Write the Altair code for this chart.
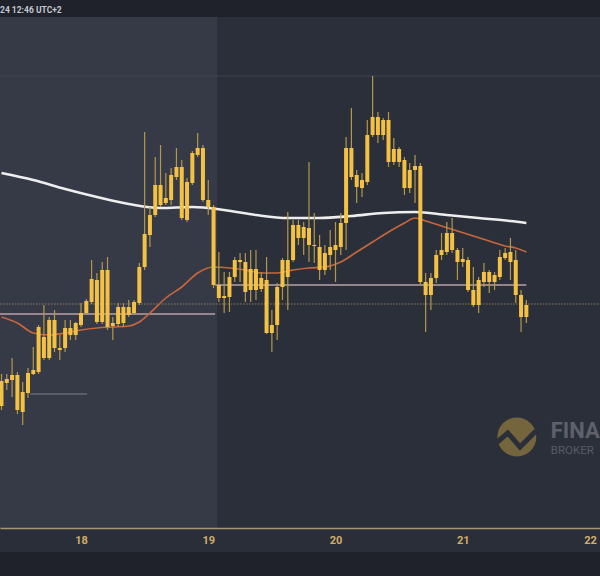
import altair as alt
import pandas as pd

# Hourly candles, hour offsets counted from 17 Apr 00:00 (UTC+2)
hours = list(range(9, 109))

open_ = [194, 217, 220, 225, 188, 207, 226, 228, 263, 242,
         280, 252, 252, 272, 265, 275, 287, 298, 320, 278,
         330, 274, 276, 293, 285, 287, 297, 333, 365, 385,
         415, 397, 400, 423, 433, 380, 417, 445, 452, 400,
         393, 315, 302, 303, 323, 340, 338, 310, 331, 311,
         320, 267, 275, 313, 340, 340, 375, 362, 372, 355,
         353, 330, 345, 350, 353, 377, 452, 425, 412, 418,
         465, 483, 465, 480, 438, 451, 440, 412, 430, 434,
         318, 305, 322, 345, 348, 367, 350, 338, 340, 310,
         295, 318, 328, 318, 323, 342, 348, 340, 305, 283]

close = [219, 221, 225, 190, 208, 227, 230, 273, 242, 280,
         252, 250, 272, 265, 277, 287, 299, 321, 278, 330,
         273, 277, 293, 277, 293, 298, 333, 366, 385, 415,
         395, 402, 425, 433, 382, 418, 447, 452, 400, 393,
         315, 302, 304, 323, 340, 338, 308, 331, 310, 322,
         267, 275, 313, 340, 323, 375, 362, 373, 355, 354,
         330, 347, 353, 355, 377, 452, 423, 413, 420, 465,
         483, 465, 480, 438, 451, 438, 412, 430, 434, 318,
         305, 322, 345, 350, 367, 350, 338, 341, 310, 295,
         320, 328, 318, 325, 343, 347, 338, 305, 283, 295]

high = [226, 226, 242, 228, 218, 232, 253, 275, 295, 283,
        290, 265, 280, 280, 278, 297, 301, 340, 327, 338,
        343, 283, 297, 297, 300, 300, 337, 468, 393, 443,
        455, 427, 432, 452, 440, 422, 449, 467, 455, 420,
        395, 348, 328, 328, 343, 347, 347, 350, 350, 328,
        343, 290, 317, 342, 388, 380, 380, 378, 438, 387,
        365, 355, 370, 378, 387, 463, 492, 430, 427, 480,
        524, 488, 482, 488, 462, 453, 443, 437, 445, 437,
        327, 327, 350, 367, 378, 382, 352, 352, 343, 333,
        323, 337, 330, 328, 350, 352, 362, 350, 310, 300]

low = [190, 210, 203, 186, 175, 202, 225, 226, 240, 240,
       248, 240, 248, 260, 260, 273, 285, 296, 276, 276,
       270, 260, 273, 273, 283, 285, 295, 330, 353, 383,
       393, 395, 395, 420, 380, 378, 415, 443, 398, 385,
       312, 298, 287, 288, 318, 318, 298, 298, 300, 308,
       266, 248, 260, 300, 290, 338, 355, 345, 338, 337,
       320, 325, 330, 318, 345, 350, 420, 397, 403, 415,
       463, 457, 460, 433, 435, 433, 405, 407, 397, 316,
       268, 290, 317, 340, 345, 347, 320, 333, 308, 293,
       287, 313, 307, 310, 320, 340, 320, 297, 268, 277]

# Slow moving average (white)
slow_ma_hours = [9, 15, 21, 27, 33, 39, 45, 51, 57, 63, 69, 75, 81, 87, 93, 99, 105, 108]
slow_ma = [427, 420, 411, 403, 396, 392, 393, 390, 385, 382, 382, 384, 387, 388, 385, 382, 379, 377]

# Fast moving average (orange)
fast_ma_hours = [9, 12, 15, 18, 21, 24, 27, 30, 33, 35, 37, 40, 43, 46, 49, 52, 55, 58,
                 61, 64, 67, 70, 73, 76, 79, 82, 85, 87, 89, 92, 95, 98, 101, 104, 106, 108]
fast_ma = [283, 277, 267, 265, 267, 270, 272, 273, 274, 278, 287, 302, 313, 327, 333, 332, 330, 327,
           327, 330, 332, 333, 338, 348, 358, 368, 377, 382, 379, 374, 369, 364, 359, 354, 352, 348]

# Horizontal price levels
grid_price = 524
dotted_price = 296
level_starts = [49.3, 8.72, 14.4]
level_ends = [108.0, 49.3, 25.1]
level_prices = [315, 286, 206]

# Shaded previous-session band
band_start = 8.72
band_end = 49.65

day_ticks = [24, 48, 72, 96, 120]
header = "24 12:46 UTC+2"

X_DOMAIN = [8.72, 121.89]
Y_DOMAIN = [72, 583]

BODY = "#f3c244"
WICK = "#b3984c"


def xq(field):
    return alt.X(
        f"{field}:Q",
        scale=alt.Scale(domain=X_DOMAIN, nice=False, zero=False, padding=0),
        axis=alt.Axis(
            values=day_ticks, labelExpr="datum.value / 24 + 17", title=None,
            grid=False, ticks=False, domainColor="#a89670", domainWidth=1.5,
            labelColor="#cfae6b", labelFontSize=11, labelFontWeight="bold",
            labelFont="Roboto", labelPadding=6, labelFlush=False, zindex=1,
        ),
    )


def yq(field):
    return alt.Y(f"{field}:Q", scale=alt.Scale(domain=Y_DOMAIN, nice=False, zero=False, padding=0),
                 axis=None)


candles = pd.DataFrame({"hour": hours, "open": open_, "high": high, "low": low, "close": close})
one = pd.DataFrame({"k": [0]})

axis_strip = alt.Chart(one).mark_rect(color="#2a2e39", clip=False).encode(
    x=alt.value(0), x2=alt.value(600), y=alt.value(511), y2=alt.value(535)
)

band = alt.Chart(pd.DataFrame({"start": [band_start], "end": [band_end]})).mark_rect(
    color="#363a46"
).encode(x=xq("start"), x2="end:Q", y=alt.value(0), y2=alt.value(511))

grid = alt.Chart(pd.DataFrame({"price": [grid_price]})).mark_rule(
    color="#3e4250", strokeWidth=1
).encode(y=yq("price"), x=alt.value(0), x2=alt.value(600))

dotted = alt.Chart(pd.DataFrame({"price": [dotted_price]})).mark_rule(
    color="#8f7f5e", strokeWidth=1.2, strokeDash=[1.5, 1.5]
).encode(y=yq("price"), x=alt.value(0), x2=alt.value(600))

levels_df = pd.DataFrame({"start": level_starts, "end": level_ends, "price": level_prices,
                          "kind": ["a", "a", "b"]})
levels_main = alt.Chart(levels_df[levels_df.kind == "a"]).mark_rule(
    color="#a8949a", strokeWidth=2, opacity=0.85
).encode(x=xq("start"), x2="end:Q", y=yq("price"))
levels_minor = alt.Chart(levels_df[levels_df.kind == "b"]).mark_rule(
    color="#666a76", strokeWidth=1.5
).encode(x=xq("start"), x2="end:Q", y=yq("price"))

slow_line = alt.Chart(pd.DataFrame({"hour": slow_ma_hours, "ma": slow_ma})).mark_line(
    color="#eeeeee", strokeWidth=2.6, interpolate="monotone"
).encode(x=xq("hour"), y=yq("ma"))

fast_line = alt.Chart(pd.DataFrame({"hour": fast_ma_hours, "ma": fast_ma})).mark_line(
    color="#c8673c", strokeWidth=1.6, interpolate="monotone"
).encode(x=xq("hour"), y=yq("ma"))

wicks = alt.Chart(candles).mark_rule(color=WICK, strokeWidth=1.2).encode(
    x=xq("hour"), y=yq("low"), y2="high:Q"
)
bodies = alt.Chart(candles).mark_bar(color=BODY, size=4).encode(
    x=xq("hour"), y=yq("open"), y2="close:Q"
)

# Broker watermark
logo = alt.Chart(pd.DataFrame({"hour": [106.2], "price": [163]})).mark_point(
    filled=True, shape="circle", size=1520, color="#74653c", opacity=1
).encode(x=xq("hour"), y=yq("price"))
logo_zig = alt.Chart(pd.DataFrame({"hour": [102.3, 104.5, 106.8, 109.8],
                                   "price": [157, 167, 153, 169],
                                   "o": [0, 1, 2, 3]})).mark_line(
    color="#2b2f3a", strokeWidth=5, strokeJoin="miter"
).encode(x=xq("hour"), y=yq("price"), order="o:Q")
brand = alt.Chart(pd.DataFrame({"hour": [112.6], "price": [169], "t": ["FINA"]})).mark_text(
    align="left", baseline="middle", font="Roboto", fontSize=22, fontWeight="bold", color="#5d616c"
).encode(x=xq("hour"), y=yq("price"), text="t:N")
brand_sub = alt.Chart(pd.DataFrame({"hour": [112.6], "price": [149], "t": ["BROKER"]})).mark_text(
    align="left", baseline="middle", font="Roboto", fontSize=11.5, color="#575b66"
).encode(x=xq("hour"), y=yq("price"), text="t:N")

head = alt.Chart(pd.DataFrame({"t": [header]})).mark_text(
    align="left", baseline="middle", font="Roboto", fontSize=8.5, fontWeight="bold", color="#c6c8ce"
).encode(x=alt.value(0), y=alt.value(-7), text="t:N")

chart = alt.layer(
    axis_strip, band, grid, dotted, levels_main, levels_minor,
    logo, logo_zig, brand, brand_sub,
    slow_line, fast_line, wicks, bodies, head,
).properties(
    width=600, height=511,
    autosize=alt.AutoSizeParams(type="none"),
    padding={"left": 0, "right": 0, "top": 17, "bottom": 48},
    background="#1f222b",
).configure_view(fill="#2b2f3a", stroke=None)

chart.save("out.html", embed_options={"renderer": "svg", "actions": False})
